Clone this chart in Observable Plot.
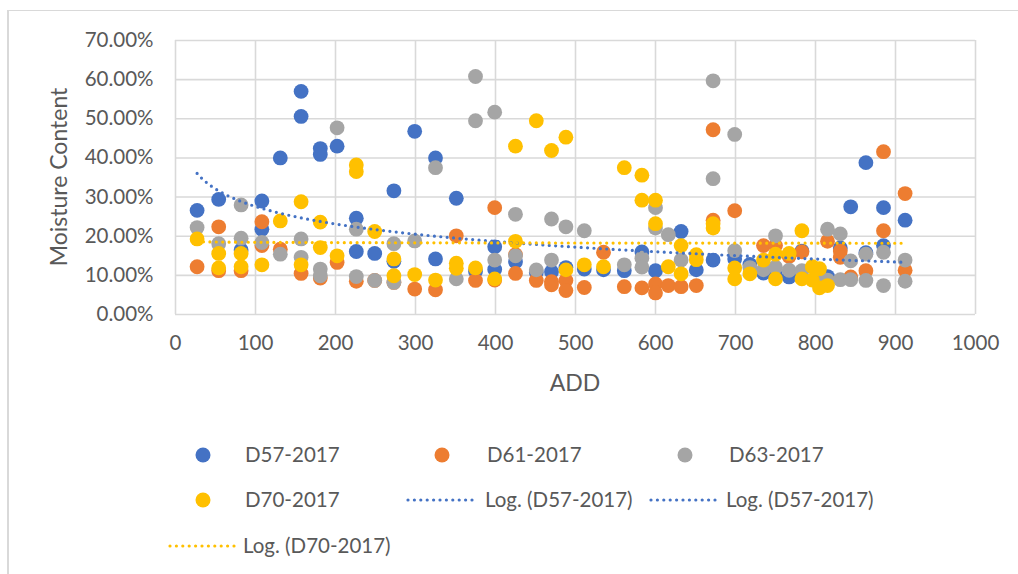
<!DOCTYPE html>
<html>
<head>
<meta charset="utf-8">
<script src="https://cdn.jsdelivr.net/npm/d3@7"></script>
<script src="https://cdn.jsdelivr.net/npm/@observablehq/plot@0.6"></script>
<style>
  html, body { margin: 0; padding: 0; background: #fff; }
  #wrap { position: relative; width: 1018px; height: 574px; overflow: hidden; font-family: Lato, "Open Sans", sans-serif; color: #595959; }
  #frame { position: absolute; left: 7px; top: 10px; width: 1100px; height: 700px; border-left: 2px solid #d9d9d9; border-top: 1px solid #d9d9d9; }
  #chart { position: absolute; left: 0; top: 0; }
  .lab { position: absolute; font-size: 20.5px; white-space: nowrap; line-height: 1; }
  .ytitle { position: absolute; font-size: 23px; white-space: nowrap; transform: translate(-50%, -50%) rotate(-90deg); left: 58px; top: 177px; }
  .xtitle { position: absolute; font-size: 23px; transform: translate(-50%, -50%); left: 575px; top: 382px; }
  .mk { position: absolute; width: 15px; height: 15px; border-radius: 50%; transform: translate(-50%, -50%); }
  .lg { position: absolute; }
</style>
</head>
<body>
<div id="wrap">
  <div id="frame"></div>
  <div id="chart"></div>
  <div class="ytitle">Moisture Content</div>
  <div class="xtitle">ADD</div>
  <div id="legend"></div>
</div>
<script>
// ---- data (ADD, moisture %) ----
const seriesNames = ["D57-2017", "D61-2017", "D63-2017", "D70-2017"];
const seriesColors = ["#4472C4", "#ED7D31", "#A5A5A5", "#FFC000"];

const d57 = [[27,26.6],[54,29.4],[82,16.5],[108,29.0],[108,21.8],[131,40.0],[157,57.0],[157,50.6],
  [181,42.4],[181,40.9],[202,43.0],[226,24.6],[226,16.1],[249,15.6],[273,31.6],[273,13.6],[299,46.8],
  [325,40.0],[325,14.2],[351,29.7],[375,11.0],[399,17.3],[399,11.5],[425,13.5],[451,10.7],[470,10.9],
  [488,12.0],[511,11.6],[535,11.4],[561,11.2],[583,16.0],[600,11.2],[632,21.2],[651,11.4],[672,13.9],
  [699,14.2],[718,12.8],[735,10.6],[750,10.0],[767,9.6],[783,16.2],[815,9.7],[831,17.0],[844,27.5],
  [863,38.8],[863,15.8],[885,27.3],[885,17.6],[912,24.1]];

const d61 = [[27,12.2],[54,22.4],[54,11.2],[82,11.2],[108,23.7],[108,17.6],[131,16.7],[157,10.5],
  [181,9.3],[202,13.3],[226,8.5],[249,8.7],[273,8.2],[299,6.5],[325,6.3],[351,20.1],[375,8.7],
  [399,27.3],[399,8.8],[425,15.3],[425,10.5],[451,8.7],[470,8.4],[470,7.6],[488,8.7],[488,6.1],
  [511,6.9],[535,15.9],[561,7.1],[583,6.8],[600,7.8],[600,5.5],[616,7.4],[632,7.1],[651,7.4],
  [672,47.2],[672,24.1],[699,26.5],[735,17.6],[750,17.6],[767,14.8],[783,16.0],[815,18.7],
  [831,16.2],[831,14.6],[844,9.6],[863,11.2],[885,41.6],[885,21.4],[912,30.9],[912,11.3]];

const d63 = [[27,22.2],[54,18.1],[82,28.0],[82,19.5],[108,18.4],[131,15.4],[157,19.3],[157,14.6],
  [181,11.6],[181,9.9],[202,47.7],[226,21.8],[226,9.7],[249,8.7],[273,18.1],[273,8.2],[299,18.8],
  [325,37.5],[351,9.1],[375,60.8],[375,49.5],[399,51.7],[399,13.9],[425,25.6],[425,15.0],[451,11.4],
  [470,24.4],[470,13.9],[488,22.4],[511,21.4],[561,12.7],[583,14.4],[583,12.1],[600,27.3],[600,22.1],
  [616,20.4],[632,13.9],[672,59.7],[672,34.7],[699,46.0],[699,16.3],[718,12.0],[735,11.4],[750,20.1],
  [750,12.1],[767,11.3],[783,11.2],[805,10.0],[815,21.8],[815,8.8],[831,20.6],[831,8.9],[844,13.7],
  [844,8.9],[863,15.4],[863,8.7],[885,15.9],[885,7.4],[912,13.9],[912,8.5]];

const d70 = [[27,19.3],[54,15.6],[54,11.9],[82,15.6],[82,12.2],[108,12.7],[131,23.9],[157,28.8],
  [157,12.7],[181,23.6],[181,17.1],[202,15.0],[226,38.2],[226,36.5],[249,21.2],[273,14.2],[273,9.9],
  [299,10.2],[325,8.8],[351,13.1],[351,11.8],[375,11.9],[399,9.1],[425,43.0],[425,18.7],[451,49.5],
  [470,41.9],[488,45.3],[488,11.4],[511,12.7],[535,12.2],[561,37.5],[583,35.6],[583,29.2],[600,29.2],
  [600,23.2],[616,12.2],[632,17.6],[632,10.4],[651,15.3],[651,14.0],[672,23.2],[672,22.1],[699,11.9],
  [699,9.1],[718,10.4],[735,13.9],[750,15.4],[750,9.1],[767,15.6],[783,21.4],[783,9.1],[796,12.2],
  [796,8.8],[805,11.7],[805,6.8],[815,7.4]];

// Logarithmic trendline coefficients (y% = a + b·ln x)
const trendD57 = {a: 57.3, b: -6.45, from: 27, to: 912};
const trendD70 = {a: 18.95, b: -0.11, from: 27, to: 912};

const xTicks = [0,100,200,300,400,500,600,700,800,900,1000];
const yTicks = [0,0.1,0.2,0.3,0.4,0.5,0.6,0.7];

// ---- build tables ----
const allSeries = [d57, d61, d63, d70];
const points = allSeries.flatMap((s, i) => s.map(([x, y]) => ({x, y: y / 100, series: seriesNames[i]})));

function trend({a, b, from, to}) {
  return d3.range(from, to + 0.001, (to - from) / 200).map(x => ({x, y: (a + b * Math.log(x)) / 100}));
}
const trend57 = trend(trendD57);
const trend70 = trend(trendD70);

const chart = Plot.plot({
  width: 1018,
  height: 400,
  marginLeft: 175,
  marginRight: 43,
  marginTop: 40,
  marginBottom: 86,
  style: {fontFamily: "Lato, 'Open Sans', sans-serif", fontSize: "20.5px", color: "#595959", background: "transparent"},
  x: {domain: [0, 1000], ticks: xTicks, tickSize: 0, tickPadding: 21, label: null, tickFormat: d => String(d)},
  y: {domain: [0, 0.7], ticks: yTicks, tickSize: 0, tickPadding: 22, label: null,
      tickFormat: d => (d * 100).toFixed(2) + "%"},
  color: {domain: seriesNames, range: seriesColors},
  marks: [
    Plot.ruleX(xTicks, {stroke: "#d9d9d9", strokeWidth: 1.6}),
    Plot.ruleY(yTicks, {stroke: "#d9d9d9", strokeWidth: 1.6}),
    Plot.dot(points, {x: "x", y: "y", fill: "series", r: 7.4, stroke: null}),
    Plot.line(trend57, {x: "x", y: "y", stroke: seriesColors[0], strokeWidth: 3.2, strokeDasharray: "0,6.4", strokeLinecap: "round"}),
    Plot.line(trend70, {x: "x", y: "y", stroke: seriesColors[3], strokeWidth: 3.2, strokeDasharray: "0,6.4", strokeLinecap: "round"})
  ]
});
document.getElementById("chart").appendChild(chart);

// ---- legend ----
const legendItems = [
  {type: "dot", color: seriesColors[0], label: "D57-2017", mx: 203, tx: 245, y: 455},
  {type: "dot", color: seriesColors[1], label: "D61-2017", mx: 442, tx: 487, y: 455},
  {type: "dot", color: seriesColors[2], label: "D63-2017", mx: 685, tx: 729, y: 455},
  {type: "dot", color: seriesColors[3], label: "D70-2017", mx: 203, tx: 245, y: 500},
  {type: "line", color: seriesColors[0], label: "Log. (D57-2017)", mx: 408, mx2: 477, tx: 485, y: 500},
  {type: "line", color: seriesColors[0], label: "Log. (D57-2017)", mx: 651, mx2: 719, tx: 726, y: 500},
  {type: "line", color: seriesColors[3], label: "Log. (D70-2017)", mx: 170, mx2: 236, tx: 243, y: 546}
];
const lg = d3.select("#legend");
for (const it of legendItems) {
  if (it.type === "dot") {
    lg.append("div").attr("class", "mk").style("left", it.mx + "px").style("top", it.y + "px").style("background", it.color);
  } else {
    const svg = lg.append("svg").attr("class", "lg").style("left", (it.mx - 3) + "px").style("top", (it.y - 5) + "px")
      .attr("width", it.mx2 - it.mx + 6).attr("height", 10);
    svg.append("line").attr("x1", 3).attr("x2", it.mx2 - it.mx + 3).attr("y1", 5).attr("y2", 5)
      .attr("stroke", it.color).attr("stroke-width", 3.2).attr("stroke-linecap", "round").attr("stroke-dasharray", "0,6.4");
  }
  lg.append("div").attr("class", "lab").style("left", it.tx + "px").style("top", (it.y - 11) + "px").text(it.label);
}
</script>
</body>
</html>
